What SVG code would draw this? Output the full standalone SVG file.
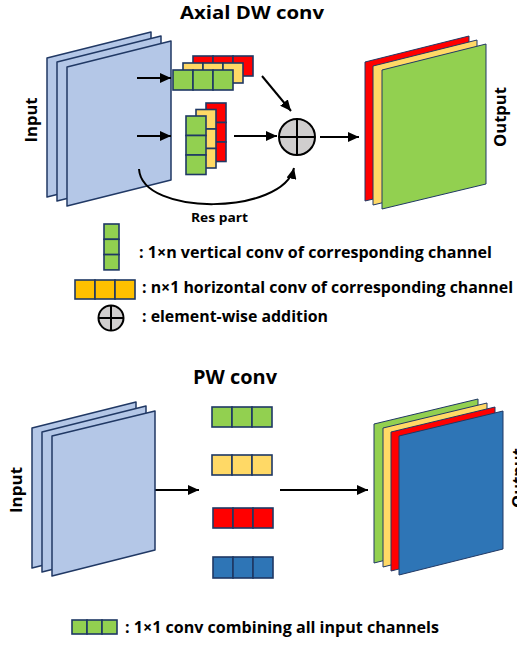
<svg xmlns="http://www.w3.org/2000/svg" width="517" height="648" viewBox="0 0 517 648">
<defs>
<marker id="ah" markerUnits="userSpaceOnUse" markerWidth="12" markerHeight="10" refX="11" refY="5" orient="auto">
<path d="M0,0 L11,5 L0,10 z" fill="#000"/>
</marker>
</defs>
<style>
.pl{fill:#B4C7E7;stroke:#203864;stroke-width:1.5;stroke-linejoin:round}
.op{stroke:#203864;stroke-width:1;stroke-linejoin:round}
.k{stroke:#1F3864;stroke-width:1.6}
.g{fill:#92D050}.y{fill:#FFD966}.r{fill:#FF0000}.b{fill:#2E75B6}.o{fill:#FFC000}
.ar{stroke:#000;stroke-width:2;fill:none;marker-end:url(#ah)}
.t{font-family:"Open Sans","Liberation Sans",sans-serif;font-weight:bold;fill:#000}
.plus{fill:#D0CECE;stroke:#000;stroke-width:2}
.cr{stroke:#000;stroke-width:2}
</style>
<rect width="517" height="648" fill="#fff"/>

<text class="t" x="180" y="19" font-size="18.5" textLength="144" lengthAdjust="spacingAndGlyphs">Axial DW conv</text>
<text class="t" x="193" y="384" font-size="19" textLength="84" lengthAdjust="spacingAndGlyphs">PW conv</text>

<g id="input-top">
<polygon class="pl" points="47,58 151,32 151,171 47,197"/>
<polygon class="pl" points="57,62 161,36 161,175 57,201"/>
<polygon class="pl" points="67,67 171,41 171,180 67,206"/>
<text class="t" transform="translate(37,120) rotate(-90)" text-anchor="middle" font-size="15.5" textLength="45" lengthAdjust="spacingAndGlyphs">Input</text>
</g>

<g id="hkernel-top">
<rect class="k r" x="193" y="56" width="20" height="20"/><rect class="k r" x="213" y="56" width="20" height="20"/><rect class="k r" x="233" y="56" width="20" height="20"/>
<rect class="k y" x="183" y="63" width="20" height="20"/><rect class="k y" x="203" y="63" width="20" height="20"/><rect class="k y" x="223" y="63" width="20" height="20"/>
<rect class="k g" x="173" y="70" width="20" height="20"/><rect class="k g" x="193" y="70" width="20" height="20"/><rect class="k g" x="213" y="70" width="20" height="20"/>
</g>

<g id="vkernel-top">
<rect class="k r" x="206" y="103" width="20" height="19.5"/><rect class="k r" x="206" y="122.5" width="20" height="19.5"/><rect class="k r" x="206" y="142" width="20" height="19.5"/>
<rect class="k y" x="196" y="109.5" width="20" height="19.5"/><rect class="k y" x="196" y="129" width="20" height="19.5"/><rect class="k y" x="196" y="148.5" width="20" height="19.5"/>
<rect class="k g" x="186" y="116" width="20" height="19.5"/><rect class="k g" x="186" y="135.5" width="20" height="19.5"/><rect class="k g" x="186" y="155" width="20" height="19.5"/>
</g>

<g id="plus-top">
<circle class="plus" cx="297" cy="137" r="18"/>
<line class="cr" x1="279" y1="137" x2="315" y2="137"/>
<line class="cr" x1="297" y1="119" x2="297" y2="155"/>
</g>

<g id="output-top">
<polygon class="op r" points="365,62 469,36 469,176 365,201"/>
<polygon class="op y" points="373,66 477,40 477,180 373,205"/>
<polygon class="op g" points="382,70 486,44 486,184 382,209"/>
<text class="t" transform="translate(506,117) rotate(-90)" text-anchor="middle" font-size="15.5" textLength="60" lengthAdjust="spacingAndGlyphs">Output</text>
</g>

<g id="connectors">
<line class="ar" x1="137" y1="78" x2="171" y2="78"/>
<line class="ar" x1="137" y1="136" x2="171" y2="136"/>
<line class="ar" x1="234" y1="136" x2="277" y2="136"/>
<line class="ar" x1="262" y1="76" x2="291" y2="111"/>
<line class="ar" x1="320" y1="137" x2="359" y2="137"/>
<path class="ar" d="M139,169 C142,217 283,215 294,168"/>
<line class="ar" x1="111" y1="490" x2="199" y2="490"/>
<line class="ar" x1="280" y1="490" x2="368" y2="490"/>
</g>
<text class="t" x="191" y="222" font-size="13" textLength="57" lengthAdjust="spacingAndGlyphs">Res part</text>

<g id="legend-top">
<rect class="k g" x="104" y="224" width="15" height="15.3"/><rect class="k g" x="104" y="239.3" width="15" height="15.3"/><rect class="k g" x="104" y="254.6" width="15" height="15.3"/>
<text class="t" x="139" y="258" font-size="16" textLength="353" lengthAdjust="spacingAndGlyphs">: 1×n vertical conv of corresponding channel</text>
<rect class="k o" x="75" y="280" width="20" height="19"/><rect class="k o" x="95" y="280" width="20" height="19"/><rect class="k o" x="115" y="280" width="20" height="19"/>
<text class="t" x="142" y="293" font-size="16" textLength="371" lengthAdjust="spacingAndGlyphs">: n×1 horizontal conv of corresponding channel</text>
<circle class="plus" cx="111" cy="318" r="12.5" stroke-width="1.8"/>
<line class="cr" x1="98.5" y1="318" x2="123.5" y2="318" stroke-width="1.8"/>
<line class="cr" x1="111" y1="305.5" x2="111" y2="330.5" stroke-width="1.8"/>
<text class="t" x="142" y="322" font-size="16" textLength="186" lengthAdjust="spacingAndGlyphs">: element-wise addition</text>
</g>

<g id="input-bottom">
<polygon class="pl" points="32,428 136,402 136,542 32,568"/>
<polygon class="pl" points="42,432 146,406 146,546 42,572"/>
<polygon class="pl" points="52,436 155,411 155,550 52,576"/>
<text class="t" transform="translate(22,490) rotate(-90)" text-anchor="middle" font-size="15.5" textLength="46" lengthAdjust="spacingAndGlyphs">Input</text>
</g>

<g id="pw-kernels">
<rect class="k g" x="212" y="407" width="20" height="20"/><rect class="k g" x="232" y="407" width="20" height="20"/><rect class="k g" x="252" y="407" width="20" height="20"/>
<rect class="k y" x="212" y="455" width="20" height="20"/><rect class="k y" x="232" y="455" width="20" height="20"/><rect class="k y" x="252" y="455" width="20" height="20"/>
<rect class="k r" x="213" y="508" width="20" height="20"/><rect class="k r" x="233" y="508" width="20" height="20"/><rect class="k r" x="253" y="508" width="20" height="20"/>
<rect class="k b" x="213" y="557" width="20" height="21"/><rect class="k b" x="233" y="557" width="20" height="21"/><rect class="k b" x="253" y="557" width="20" height="21"/>
</g>

<g id="output-bottom">
<polygon class="op g" points="374,424 478,399 478,537 374,563"/>
<polygon class="op y" points="383,428 487,403 487,541 383,567"/>
<polygon class="op r" points="391,432 495,407 495,545 391,571"/>
<polygon class="op b" points="399,436 503,411 503,549 399,575"/>
<text class="t" transform="translate(524,478) rotate(-90)" text-anchor="middle" font-size="15.5" textLength="60" lengthAdjust="spacingAndGlyphs">Output</text>
</g>

<g id="legend-bottom">
<rect class="k g" x="72" y="620" width="15" height="14"/><rect class="k g" x="87" y="620" width="15" height="14"/><rect class="k g" x="102" y="620" width="15" height="14"/>
<text class="t" x="125" y="633" font-size="16" textLength="314" lengthAdjust="spacingAndGlyphs">: 1×1 conv combining all input channels</text>
</g>
</svg>
